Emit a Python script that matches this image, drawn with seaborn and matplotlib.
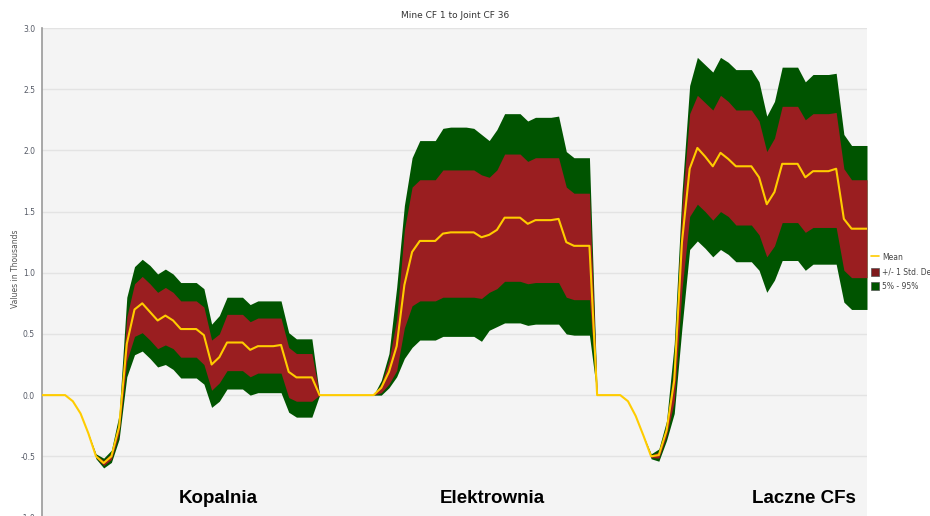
import numpy as np
import pandas as pd
import matplotlib
matplotlib.use("Agg")
import matplotlib.pyplot as plt
from matplotlib.lines import Line2D
from matplotlib.patches import Patch
import seaborn as sns

# ---- data (values in thousands) ----
# Mine (Kopalnia) CF 1..36
mine_mean = [0, 0, 0, 0, -0.05, -0.15, -0.31, -0.50, -0.555, -0.50, -0.26, 0.42,
             0.70, 0.75, 0.68, 0.61, 0.65, 0.61, 0.54, 0.54, 0.54, 0.49, 0.25, 0.31,
             0.43, 0.43, 0.43, 0.37, 0.40, 0.40, 0.40, 0.41, 0.19, 0.145, 0.145, 0.145]
mine_sd_lo = [0, 0, 0, 0, -0.05, -0.15, -0.31, -0.51, -0.575, -0.525, -0.31, 0.28,
              0.48, 0.51, 0.45, 0.38, 0.41, 0.38, 0.31, 0.31, 0.31, 0.25, 0.04, 0.10,
              0.20, 0.20, 0.20, 0.15, 0.18, 0.18, 0.18, 0.18, -0.02, -0.05, -0.05, -0.05]
mine_sd_hi = [0, 0, 0, 0, -0.05, -0.15, -0.31, -0.49, -0.535, -0.475, -0.21, 0.64,
              0.91, 0.97, 0.91, 0.84, 0.88, 0.84, 0.77, 0.77, 0.77, 0.72, 0.45, 0.50,
              0.66, 0.66, 0.66, 0.60, 0.63, 0.63, 0.63, 0.63, 0.39, 0.34, 0.34, 0.34]
mine_p05 = [0, 0, 0, 0, -0.05, -0.15, -0.31, -0.52, -0.595, -0.55, -0.36, 0.15,
            0.33, 0.36, 0.30, 0.23, 0.25, 0.21, 0.14, 0.14, 0.14, 0.09, -0.10, -0.05,
            0.05, 0.05, 0.05, 0.00, 0.02, 0.02, 0.02, 0.02, -0.14, -0.18, -0.18, -0.18]
mine_p95 = [0, 0, 0, 0, -0.05, -0.15, -0.31, -0.48, -0.515, -0.45, -0.16, 0.80,
            1.05, 1.11, 1.06, 0.99, 1.03, 0.99, 0.92, 0.92, 0.92, 0.87, 0.58, 0.65,
            0.80, 0.80, 0.80, 0.74, 0.77, 0.77, 0.77, 0.77, 0.51, 0.46, 0.46, 0.46]

# Power plant (Elektrownia) CF 1..36
plant_mean = [0, 0, 0, 0, 0, 0, 0, 0, 0.06, 0.19, 0.40, 0.90,
              1.17, 1.26, 1.26, 1.26, 1.32, 1.33, 1.33, 1.33, 1.33, 1.29, 1.31, 1.35,
              1.45, 1.45, 1.45, 1.40, 1.43, 1.43, 1.43, 1.44, 1.25, 1.22, 1.22, 1.22]
plant_sd_lo = [0, 0, 0, 0, 0, 0, 0, 0, 0.02, 0.09, 0.20, 0.55,
               0.73, 0.77, 0.77, 0.77, 0.80, 0.80, 0.80, 0.80, 0.80, 0.79, 0.84, 0.87,
               0.93, 0.93, 0.93, 0.91, 0.92, 0.92, 0.92, 0.92, 0.80, 0.78, 0.78, 0.78]
plant_sd_hi = [0, 0, 0, 0, 0, 0, 0, 0, 0.09, 0.28, 0.62, 1.35,
               1.70, 1.76, 1.76, 1.76, 1.84, 1.84, 1.84, 1.84, 1.84, 1.80, 1.78, 1.84,
               1.97, 1.97, 1.97, 1.91, 1.94, 1.94, 1.94, 1.94, 1.70, 1.65, 1.65, 1.65]
plant_p05 = [0, 0, 0, 0, 0, 0, 0, 0, 0.00, 0.06, 0.15, 0.30,
             0.39, 0.45, 0.45, 0.45, 0.48, 0.48, 0.48, 0.48, 0.48, 0.44, 0.53, 0.56,
             0.59, 0.59, 0.59, 0.57, 0.58, 0.58, 0.58, 0.58, 0.50, 0.49, 0.49, 0.49]
plant_p95 = [0, 0, 0, 0, 0, 0, 0, 0, 0.12, 0.34, 0.88, 1.55,
             1.94, 2.08, 2.08, 2.08, 2.18, 2.19, 2.19, 2.19, 2.18, 2.13, 2.08, 2.17,
             2.30, 2.30, 2.30, 2.24, 2.27, 2.27, 2.27, 2.28, 1.99, 1.94, 1.94, 1.94]

# Joint (Laczne CFs) CF 1..36
joint_mean = [0, 0, 0, 0, -0.05, -0.17, -0.33, -0.50, -0.49, -0.29, 0.12, 1.25,
              1.85, 2.02, 1.95, 1.87, 1.98, 1.93, 1.87, 1.87, 1.87, 1.78, 1.56, 1.66,
              1.89, 1.89, 1.89, 1.78, 1.83, 1.83, 1.83, 1.85, 1.44, 1.36, 1.36, 1.36]
joint_sd_lo = [0, 0, 0, 0, -0.05, -0.17, -0.33, -0.51, -0.515, -0.33, -0.05, 0.86,
               1.46, 1.56, 1.50, 1.43, 1.50, 1.46, 1.39, 1.39, 1.39, 1.31, 1.13, 1.22,
               1.41, 1.41, 1.41, 1.33, 1.37, 1.37, 1.37, 1.37, 1.02, 0.96, 0.96, 0.96]
joint_sd_hi = [0, 0, 0, 0, -0.05, -0.17, -0.33, -0.49, -0.465, -0.25, 0.25, 1.54,
               2.30, 2.45, 2.39, 2.33, 2.45, 2.40, 2.33, 2.33, 2.33, 2.24, 1.99, 2.10,
               2.36, 2.36, 2.36, 2.25, 2.30, 2.30, 2.30, 2.31, 1.85, 1.76, 1.76, 1.76]
joint_p05 = [0, 0, 0, 0, -0.05, -0.17, -0.33, -0.52, -0.54, -0.37, -0.15, 0.55,
             1.19, 1.26, 1.20, 1.13, 1.19, 1.15, 1.09, 1.09, 1.09, 1.02, 0.84, 0.94,
             1.10, 1.10, 1.10, 1.02, 1.07, 1.07, 1.07, 1.07, 0.76, 0.70, 0.70, 0.70]
joint_p95 = [0, 0, 0, 0, -0.05, -0.17, -0.33, -0.48, -0.44, -0.21, 0.42, 1.65,
             2.53, 2.76, 2.70, 2.64, 2.76, 2.72, 2.66, 2.66, 2.66, 2.56, 2.28, 2.40,
             2.68, 2.68, 2.68, 2.56, 2.62, 2.62, 2.62, 2.63, 2.13, 2.04, 2.04, 2.04]

title = "Mine CF 1 to Joint CF 36"
y_label = "Values in Thousands"
group_labels = ["Kopalnia", "Elektrownia", "Laczne CFs"]
legend_labels = ["Mean", "+/- 1 Std. Dev.", "5% - 95%"]

# ---- assemble ----
mean = np.array(mine_mean + plant_mean + joint_mean)
sd_lo = np.array(mine_sd_lo + plant_sd_lo + joint_sd_lo)
sd_hi = np.array(mine_sd_hi + plant_sd_hi + joint_sd_hi)
p05 = np.array(mine_p05 + plant_p05 + joint_p05)
p95 = np.array(mine_p95 + plant_p95 + joint_p95)
idx = np.arange(len(mean))
df = pd.DataFrame({"cf": idx, "mean": mean})

sns.set_style("white")
plt.rcParams["font.family"] = ["DejaVu Sans"]

W, H = 930, 516
fig = plt.figure(figsize=(W / 100, H / 100), dpi=100)
fig.patch.set_facecolor("white")
left, right, top, bottom = 42, 867, 28, 517.5
ax = fig.add_axes([left / W, 1 - bottom / H, (right - left) / W, (bottom - top) / H])
ax.set_facecolor("#f4f4f4")

GREEN = "#005400"
RED = "#9a1e20"
YELLOW = "#ffcc00"

for yv in np.arange(-1.0, 3.01, 0.5):
    ax.axhline(yv, color="#e3e3e3", lw=1.0, zorder=0)

ax.fill_between(idx, p05, p95, color=GREEN, lw=0, zorder=1)
ax.fill_between(idx, sd_lo, sd_hi, color=RED, lw=0, zorder=2)
sns.lineplot(data=df, x="cf", y="mean", ax=ax, color=YELLOW, lw=1.5, zorder=3)

ax.set_xlim(0, len(mean) - 1)
ax.set_ylim(-1.0, 3.0)
ax.set_yticks(np.arange(-1.0, 3.01, 0.5))
ax.set_yticklabels([f"{v:.1f}" for v in np.arange(-1.0, 3.01, 0.5)])
ax.set_xticks([])
ax.set_xlabel("")
ax.set_ylabel("")
ax.tick_params(axis="y", labelsize=5.5, labelcolor="#555a66", color="#999999",
               length=3, width=0.8, pad=2)
for s in ["top", "right", "bottom"]:
    ax.spines[s].set_visible(False)
ax.spines["left"].set_color("#999999")
ax.spines["left"].set_linewidth(1.2)

fig.text(455 / W, 1 - 16 / H, title, ha="center", va="center", fontsize=6.5, color="#333333")
fig.text(15 / W, 1 - 269 / H, y_label, ha="center", va="center", rotation=90,
         fontsize=5.5, color="#555555")

for lab, xc in zip(group_labels, [218, 492, 804]):
    fig.text(xc / W, 1 - 503 / H, lab, ha="center", va="baseline", fontsize=13.5,
             fontweight="bold", family=["Liberation Sans Narrow", "Liberation Sans"],
             color="black")

handles = [Line2D([0], [0], color=YELLOW, lw=1.2),
           Patch(facecolor="#7e1a1c", edgecolor="#555555", lw=0.5),
           Patch(facecolor=GREEN, edgecolor="#555555", lw=0.5)]
leg = fig.legend(handles, legend_labels, loc="upper left",
                 bbox_to_anchor=(869 / W, 1 - 251 / H), frameon=False,
                 fontsize=5.5, handlelength=1.1, handleheight=1.2, handletextpad=0.45,
                 labelspacing=0.75, borderaxespad=0, borderpad=0.2)
for t in leg.get_texts():
    t.set_color("#444444")

fig.savefig("out.png", dpi=100)
